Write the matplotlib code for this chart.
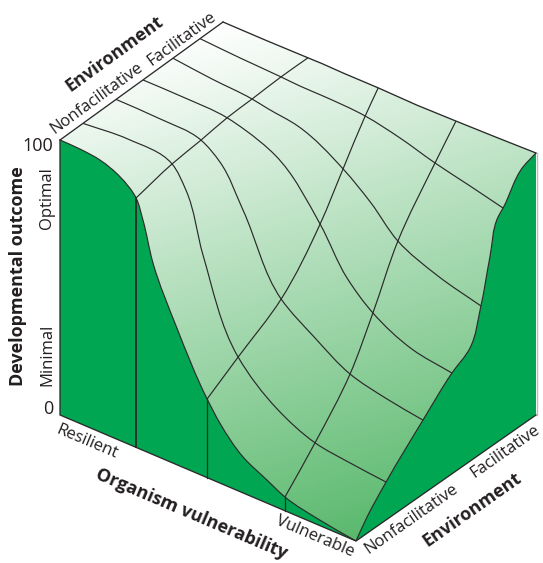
#!/usr/bin/env python
import numpy as np
import matplotlib
matplotlib.use('Agg')
import matplotlib.pyplot as plt
from matplotlib.colors import LinearSegmentedColormap
from matplotlib.patches import PathPatch
from matplotlib.path import Path

plt.rcParams['font.family'] = ['Open Sans', 'DejaVu Sans']

# surface readings, one row per line of the grid running along vulnerability
vulnerability = [0, .13, .257, .31, .38, .497, .63, .76, .88, 1]
env_pos = [
    [.141, .178, .215, .203, .180, .181, .176, .171, .166, .167],
    [.344, .360, .388, .405, .416, .432, .394, .370, .374, .372],
    [.509, .512, .544, .554, .605, .659, .579, .500, .514, .533],
    [.693, .687, .693, .690, .740, .793, .717, .642, .660, .694],
    [.859, .857, .866, .881, .888, .922, .884, .853, .833, .817],
]
outcome = [
    [100, 98.7, 93.9, 87.3, 67.8, 35.8, 23.2, 17.0, 15.4, 13.9],
    [100, 98.6, 95.2, 88.9, 74.0, 45.9, 39.5, 33.3, 29.5, 27.4],
    [100, 99.7, 96.7, 94.3, 86.1, 63.6, 53.4, 50.1, 41.7, 37.6],
    [100, 98.8, 97.2, 96.3, 91.0, 78.3, 75.3, 70.6, 62.5, 55.5],
    [100, 99.2, 97.9, 96.4, 95.8, 92.5, 92.4, 90.7, 89.1, 87.0],
]
# back edge of the surface
back_env = [1, 1.008, 1.027, 1.012, 1.006, .998, .981, .972, .981, 1]
back_outcome = [100, 99.3, 98.0, 99.1, 99.3, 99.8, 100.6, 101.4, 101.0, 100]

# nonfacilitative end of the surface (front wall profile)
front_vuln = [0, .068, .135, .203, .257, .28, .314, .395, .497, .54, .618, .699, .76, .878, 1]
front_outcome = [100, 99.8, 98.9, 95.9, 90.7, 83.8, 69.7, 49.7, 28.6, 21.8, 13.1, 8.4, 5.0, 2.0, 0]

# vulnerable end of the surface (right wall profile)
right_env = [0, .061, .167, .372, .533, .633, .694, .744, .789, .817, .928, 1]
right_outcome = [0, 5.9, 13.9, 27.4, 37.6, 42.4, 55.5, 71.7, 84.8, 87.0, 97.8, 100]

station_idx = [2, 5, 7]


def project(u, v, z):
    u, v, z = np.asarray(u, float), np.asarray(v, float), np.asarray(z, float)
    x = 60 + 296*u + 163*v + 17*u*v
    y = 415 + 126*u - 126*v - z/100.*(275 - 8*v - 5*u*v)
    return np.column_stack([x, y])


def curve(pts):
    # smooth bezier run through the readings, nearer neighbour counts more
    pts = np.asarray(pts)
    seg = pts[1:] - pts[:-1]
    ln = np.linalg.norm(seg, axis=1)
    tang = np.zeros_like(pts)
    tang[0], tang[-1] = seg[0], seg[-1]
    for i in range(1, len(pts) - 1):
        tang[i] = (ln[i]*seg[i-1]/ln[i-1] + ln[i-1]*seg[i]/ln[i]) / (ln[i-1] + ln[i])
    tang /= np.linalg.norm(tang, axis=1)[:, None]
    verts = []
    for i in range(len(pts) - 1):
        d = ln[i] / 3.
        verts += [pts[i] + tang[i]*d, pts[i+1] - tang[i+1]*d, pts[i+1]]
    return np.array(verts)


def draw_curve(ax, pts, **kw):
    verts = np.vstack([pts[:1], curve(pts)])
    codes = [Path.MOVETO] + [Path.CURVE4]*(len(verts) - 1)
    ax.add_patch(PathPatch(Path(verts, codes), fill=False, **kw))


def closed_path(runs):
    # runs is a list of (points, smooth)
    verts = [runs[0][0][:1]]
    codes = [Path.MOVETO]
    for pts, smooth in runs:
        if smooth:
            c = curve(pts)
            verts.append(c)
            codes += [Path.CURVE4]*len(c)
        else:
            verts.append(pts[1:])
            codes += [Path.LINETO]*(len(pts) - 1)
    verts.append(runs[0][0][:1])
    codes.append(Path.CLOSEPOLY)
    return Path(np.vstack(verts), codes)


fig = plt.figure(figsize=(5.43, 5.63), dpi=100)
ax = fig.add_axes([0, 0, 1, 1])
ax.set_xlim(0, 543)
ax.set_ylim(563, 0)
ax.axis('off')

u_ar = np.array(vulnerability)
front_pts = project(front_vuln, np.zeros(len(front_vuln)), front_outcome)
right_pts = project(np.ones(len(right_env)), right_env, right_outcome)
back_pts = project(u_ar, back_env, back_outcome)
left_pts = project([0, 0], [0, 1], [100, 100])

wall = '#00a651'
ink = '#2a2a2a'

# walls
front_base = project([1, 0], [0, 0], [0, 0])
ax.add_patch(PathPatch(closed_path([(front_pts, True), (np.vstack([front_pts[-1:], front_base]), False)]),
                       fc=wall, ec='none', zorder=1))
right_base = project([1, 1], [1, 0], [0, 0])
ax.add_patch(PathPatch(closed_path([(right_pts, True), (np.vstack([right_pts[-1:], right_base]), False)]),
                       fc=wall, ec='none', zorder=1))

# surface, gradient clipped to its outline
surf = closed_path([(front_pts, True), (right_pts, True),
                    (np.vstack([right_pts[-1:], back_pts[::-1]]), False),
                    (np.vstack([back_pts[:1], left_pts]), False)])
cmap = LinearSegmentedColormap.from_list('surf', ['#ffffff', '#5ab96d'])
xx, yy = np.meshgrid(np.arange(543) + .5, np.arange(563) + .5)
grad = np.clip((.3*xx + yy - 89) / 559., 0, 1)
im = ax.imshow(grad, extent=(0, 543, 563, 0), aspect='auto', cmap=cmap, vmin=0, vmax=1, zorder=2)
im.set_clip_path(PathPatch(surf, transform=ax.transData))

# grid on the surface
for i in range(len(outcome)):
    draw_curve(ax, project(u_ar, env_pos[i], outcome[i]), ec=ink, lw=0.85, zorder=3)
for j in station_idx:
    env_run = [0] + [row[j] for row in env_pos] + [back_env[j]]
    out_run = [np.interp(vulnerability[j], front_vuln, front_outcome)] + [row[j] for row in outcome] + [back_outcome[j]]
    draw_curve(ax, project([vulnerability[j]]*7, env_run, out_run), ec=ink, lw=0.85, zorder=3)
    foot = project([vulnerability[j]]*2, [0, 0], [0, out_run[0]])
    ax.plot(foot[:, 0], foot[:, 1], color=ink, lw=0.9 if j > 2 else 1.3, zorder=3)

# outline
draw_curve(ax, front_pts, ec=ink, lw=0.85, zorder=4)
draw_curve(ax, right_pts, ec=ink, lw=0.85, zorder=4)
ax.plot(back_pts[:, 0], back_pts[:, 1], color=ink, lw=0.95, zorder=4)
ax.plot(left_pts[:, 0], left_pts[:, 1], color=ink, lw=0.95, zorder=4)
edge = project([0, 0, 1, 1], [0, 0, 0, 1], [100, 0, 0, 0])
ax.plot(edge[:, 0], edge[:, 1], color=ink, lw=0.95, zorder=4)
side = project([1, 1], [1, 1], [0, 100])
ax.plot(side[:, 0] + .8, side[:, 1], color='#bdbdbd', lw=1.0, zorder=0)

# labels
tc = '#231f20'
reg = 12
bold = 13
ax.text(53, 146, '100', ha='right', va='center', fontsize=13, color=tc)
ax.text(53, 409, '0', ha='right', va='center', fontsize=13, color=tc)
ax.text(47, 198, 'Optimal', rotation=90, ha='center', va='center', fontsize=reg, color=tc)
ax.text(47, 355, 'Minimal', rotation=90, ha='center', va='center', fontsize=reg, color=tc)
ax.text(18, 276, 'Developmental outcome', rotation=90, ha='center', va='center',
        fontsize=bold, fontweight='bold', color=tc)
ax.text(114, 54, 'Environment', rotation=36, rotation_mode='anchor', ha='center', va='center',
        fontsize=bold, fontweight='bold', color=tc)
ax.text(97, 98, 'Nonfacilitative', rotation=36, rotation_mode='anchor', ha='center', va='center',
        fontsize=reg, color=tc)
ax.text(182, 39, 'Facilitative', rotation=36, rotation_mode='anchor', ha='center', va='center',
        fontsize=reg, color=tc)
ax.text(87, 442, 'Resilient', rotation=-23, rotation_mode='anchor', ha='center', va='center',
        fontsize=reg, color=tc)
ax.text(315, 537, 'Vulnerable', rotation=-23, rotation_mode='anchor', ha='center', va='center',
        fontsize=reg, color=tc)
ax.text(191, 514, 'Organism vulnerability', rotation=-23, rotation_mode='anchor', ha='center', va='center',
        fontsize=bold, fontweight='bold', color=tc)
ax.text(411, 519, 'Nonfacilitative', rotation=35, rotation_mode='anchor', ha='center', va='center',
        fontsize=reg, color=tc)
ax.text(505, 452, 'Facilitative', rotation=35, rotation_mode='anchor', ha='center', va='center',
        fontsize=reg, color=tc)
ax.text(472, 510, 'Environment', rotation=35, rotation_mode='anchor', ha='center', va='center',
        fontsize=bold, fontweight='bold', color=tc)

fig.savefig('out.png', dpi=100)
plt.close(fig)
